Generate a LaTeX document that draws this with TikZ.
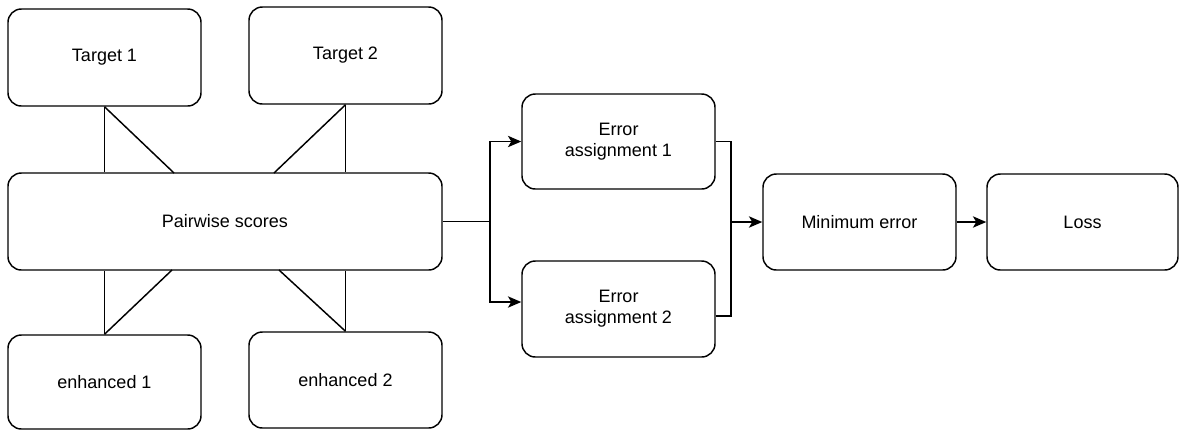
\documentclass[tikz,border=0pt]{standalone}
\usepackage{fontspec}
\setmainfont{Liberation Sans}
\usetikzlibrary{arrows.meta,calc}
\begin{document}
\begin{tikzpicture}[x=0.75pt,y=-0.75pt,
  box/.style={draw,line width=1.1pt,rounded corners=10pt,minimum width=#1*0.75pt,align=center,font=\fontsize{13.5}{16}\selectfont,inner sep=0pt},
  box/.default=193,
  conn/.style={line width=1.1pt},
  arr/.style={conn,-{Stealth[length=10pt,width=8.5pt,inset=2.5pt]}}]
\useasboundingbox (0,0) rectangle (1179,430);
\node[box,minimum height=97*0.75pt] (T1) at (104.5,57.5) {Target 1};
\node[box,minimum height=97*0.75pt] (T2) at (345.5,55.5) {Target 2};
\node[box=434,minimum height=97*0.75pt] (P) at (225,221.5) {Pairwise scores};
\node[box,minimum height=94*0.75pt] (E1) at (104.5,382) {enhanced 1};
\node[box,minimum height=96*0.75pt] (E2) at (345.5,380) {enhanced 2};
\node[box,minimum height=95*0.75pt] (EA1) at (618.5,141.5) {Error\\assignment 1};
\node[box,minimum height=96*0.75pt] (EA2) at (618.5,309) {Error\\assignment 2};
\node[box,minimum height=96*0.75pt] (ME) at (859.5,222) {Minimum error};
\node[box=191,minimum height=96*0.75pt] (L) at (1082.5,222) {Loss};
% connectors targets / enhanced to pairwise
\coordinate (d1) at (174,173);
\coordinate (d2) at (274,173);
\coordinate (d3) at (172,270);
\coordinate (d4) at (279,270);
\draw[conn] (T1.south) -- (T1.south |- P.north);
\draw[conn] (T1.south) -- (d1);
\draw[conn] (T2.south) -- (T2.south |- P.north);
\draw[conn] (T2.south) -- (d2);
\draw[conn] (E1.north) -- (E1.north |- P.south);
\draw[conn] (E1.north) -- (d3);
\draw[conn] (E2.north) -- (E2.north |- P.south);
\draw[conn] (E2.north) -- (d4);
% split
\coordinate (s) at (490,221.5);
\draw[conn] (P.east) -- (s);
\draw[arr] (s) |- (EA1.west);
\draw[arr] (s) |- ($(EA2.west)+(0,-7)$);
% merge
\coordinate (m) at (731,222);
\draw[conn] (EA1.east) -| (m);
\draw[conn] ($(EA2.east)+(0,7)$) -| (m);
\draw[arr] (m) -- (ME.west);
\draw[arr] (ME.east) -- (L.west);
\end{tikzpicture}
\end{document}
